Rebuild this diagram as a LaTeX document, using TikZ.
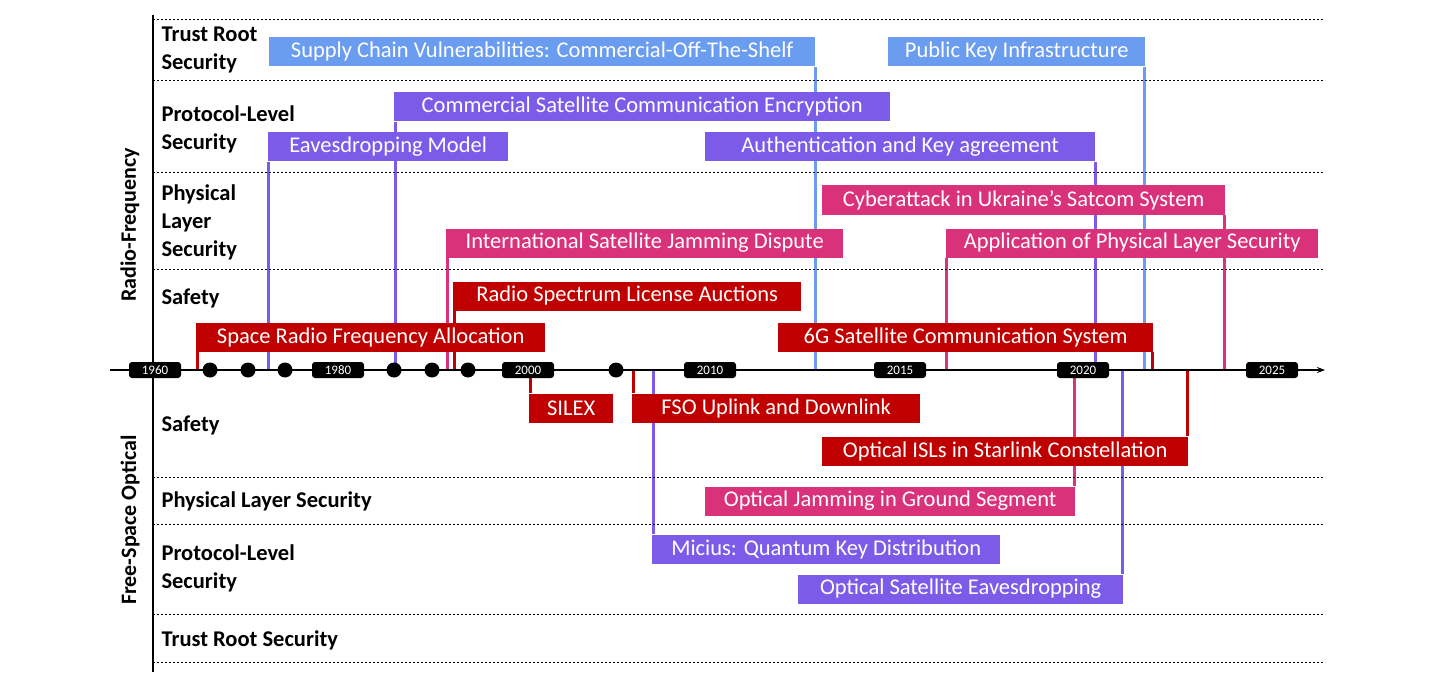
\documentclass[tikz,border=0pt]{standalone}
\usepackage{fontspec}
\setmainfont{Carlito}
\usetikzlibrary{arrows.meta,backgrounds}
\definecolor{cblue}{HTML}{6A9CF0}
\definecolor{cpurp}{HTML}{7B5BE8}
\definecolor{cpink}{HTML}{D9317A}
\definecolor{cred}{HTML}{C00000}
\begin{document}
\begin{tikzpicture}[x=1pt,y=-1pt,
  ev/.style={fill=#1,text=white,anchor=west,inner xsep=0pt,inner ysep=0pt,minimum height=29pt,font=\fontsize{22.5}{26}\selectfont},
  ln/.style={draw=#1,line width=3pt},
  yr/.style={fill=black,text=white,rounded corners=3pt,font=\fontsize{13}{14}\selectfont,minimum width=52pt,minimum height=16pt,inner sep=1pt},
  cat/.style={anchor=west,font=\bfseries\fontsize{22.5}{28}\selectfont,align=left},
  grp/.style={rotate=90,font=\bfseries\fontsize{22}{26}\selectfont},
  dl/.style={dash pattern=on 2pt off 2pt,line width=0.6pt},
  dot/.style={circle,fill=black,minimum size=15pt,inner sep=0pt}]
\useasboundingbox (0,0) rectangle (1450,695);
% frame
\draw[line width=1.2pt] (153,15) -- (153,672);
\foreach \y in {19,80,172,269,477,524,614,662} \draw[dl] (153,\y) -- (1325,\y);
% labels
\node[grp] (rf) at (130,225) {Radio-Frequency};
\node[grp] (fso) at (130,520) {Free-Space Optical};
\node[cat] (c1) at (158,50) {Trust Root\\Security};
\node[cat] (c2) at (158,129) {Protocol-Level\\Security};
\node[cat] (c3) at (158,222) {Physical\\Layer\\Security};
\node[cat] (c4) at (158,298) {Safety};
\node[cat] (c5) at (158,425) {Safety};
\node[cat] (c6) at (158,501) {Physical Layer Security};
\node[cat] (c7) at (158,568) {Protocol-Level\\Security};
\node[cat] (c8) at (158,640) {Trust Root Security};
% axis
\coordinate (a0) at (110,370); \coordinate (a1) at (1325,370);
\draw[line width=1.3pt,-{Stealth[length=8pt]}] (a0) -- (a1);
\foreach \n/\x in {s1/815,p1/1144,e1/395,e2/268,e3/1095,k1/1224,k2/447,k3/946,r1/454,r2/197,r3/1152,b1/530,b2/633,b3/1187,b4/1074,b5/653,b6/1122}
  \coordinate (\n) at (\x,370);
% events above
\node[ev=cblue,minimum width=546pt] (S1) at (269,52) {Supply Chain Vulnerabilities: Commercial-Off-The-Shelf};
\node[ev=cblue,minimum width=257pt] (P1) at (888,52) {Public Key Infrastructure};
\node[ev=cpurp,minimum width=496pt] (E1) at (394,107) {Commercial Satellite Communication Encryption};
\node[ev=cpurp,minimum width=240pt] (E2) at (268,147) {Eavesdropping Model};
\node[ev=cpurp,minimum width=390pt] (E3) at (705,147) {Authentication and Key agreement};
\node[ev=cpink,minimum width=403pt] (K1) at (822,200) {Cyberattack in Ukraine's Satcom System};
\node[ev=cpink,minimum width=397pt] (K2) at (446,243) {International Satellite Jamming Dispute};
\node[ev=cpink,minimum width=372pt] (K3) at (946,243) {Application of Physical Layer Security};
\node[ev=cred,minimum width=348pt] (R1) at (453,296) {Radio Spectrum License Auctions};
\node[ev=cred,minimum width=349pt] (R2) at (196,337) {Space Radio Frequency Allocation};
\node[ev=cred,minimum width=375pt] (R3) at (778,337) {6G Satellite Communication System};
% events below
\node[ev=cred,minimum width=84pt] (B1) at (529,408) {SILEX};
\node[ev=cred,minimum width=288pt] (B2) at (632,408) {FSO Uplink and Downlink};
\node[ev=cred,minimum width=366pt] (B3) at (822,451) {Optical ISLs in Starlink Constellation};
\node[ev=cpink,minimum width=370pt] (B4) at (705,501) {Optical Jamming in Ground Segment};
\node[ev=cpurp,minimum width=348pt] (B5) at (652,549) {Micius: Quantum Key Distribution};
\node[ev=cpurp,minimum width=325pt] (B6) at (798,589) {Optical Satellite Eavesdropping};
% connectors
\begin{scope}[on background layer]
\draw[ln=cblue] (s1) -- (s1 |- S1.south);
\draw[ln=cblue] (p1) -- (p1 |- P1.south);
\draw[ln=cpurp] (e1) -- (e1 |- E1.south);
\draw[ln=cpurp] (e2) -- (e2 |- E2.south);
\draw[ln=cpurp] (e3) -- (e3 |- E3.south);
\draw[ln=cpink] (k1) -- (k1 |- K1.south);
\draw[ln=cpink] (k2) -- (k2 |- K2.south);
\draw[ln=cpink] (k3) -- (k3 |- K3.south);
\draw[ln=cred] (r1) -- (r1 |- R1.south);
\draw[ln=cred] (r2) -- (r2 |- R2.south);
\draw[ln=cred] (r3) -- (r3 |- R3.south);
\draw[ln=cred] (b1) -- (b1 |- B1.north);
\draw[ln=cred] (b2) -- (b2 |- B2.north);
\draw[ln=cred] (b3) -- (b3 |- B3.north);
\draw[ln=cpink] (b4) -- (b4 |- B4.north);
\draw[ln=cpurp] (b5) -- (b5 |- B5.north);
\draw[ln=cpurp] (b6) -- (b6 |- B6.north);
\end{scope}
% dots & years
\foreach \x [count=\i] in {210,248,285,394,432,468,616} \node[dot] (d\i) at (\x,370) {};
\foreach \yv/\x in {1960/155,1980/338,2000/528,2010/710,2015/900,2020/1083,2025/1272}
  \node[yr] (y\yv) at (\x,370) {\yv};
\end{tikzpicture}
\end{document}
